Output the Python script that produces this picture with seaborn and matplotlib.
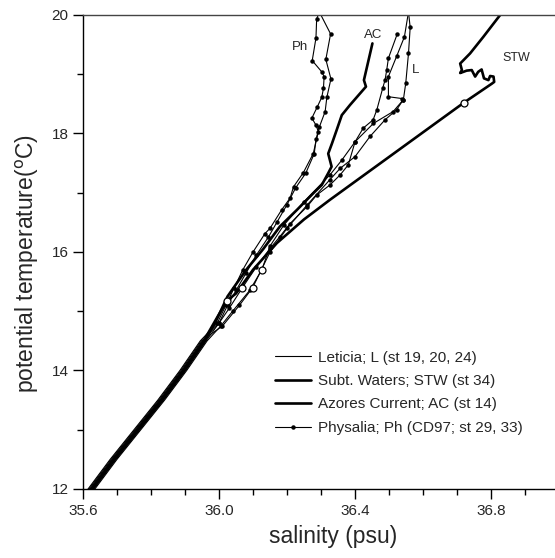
import matplotlib
matplotlib.use("Agg")
import matplotlib.pyplot as plt
import seaborn as sns
import pandas as pd
from matplotlib.lines import Line2D
from matplotlib.ticker import MultipleLocator

# T-S profiles (salinity psu, potential temperature degC)
sal_ph1 = [36.295, 36.287, 36.285, 36.274, 36.302, 36.309, 36.307, 36.302, 36.289, 36.273,
           36.285, 36.292, 36.277, 36.248, 36.219, 36.209, 36.184, 36.150, 36.135, 36.100,
           36.070, 36.045, 36.020, 35.995]
temp_ph1 = [20.05, 19.93, 19.61, 19.23, 19.04, 18.96, 18.76, 18.61, 18.45, 18.26,
            18.14, 18.03, 17.66, 17.34, 17.10, 16.91, 16.71, 16.40, 16.31, 16.00,
            15.70, 15.40, 15.10, 14.80]

sal_ph2 = [36.295, 36.328, 36.314, 36.329, 36.317, 36.312, 36.295, 36.285, 36.280, 36.255,
           36.225, 36.200, 36.170, 36.145, 36.110, 36.080, 36.050, 36.025, 36.000]
temp_ph2 = [20.05, 19.68, 19.25, 18.92, 18.61, 18.37, 18.11, 17.90, 17.66, 17.33,
            17.08, 16.80, 16.50, 16.25, 15.95, 15.65, 15.35, 15.10, 14.80]

sal_ac = [36.451, 36.426, 36.432, 36.385, 36.361, 36.346, 36.332, 36.321, 36.331, 36.321,
          36.302, 36.277, 36.229, 36.179, 36.130, 36.080, 36.042, 36.025, 35.990]
temp_ac = [19.52, 18.90, 18.79, 18.48, 18.31, 18.06, 17.83, 17.66, 17.44, 17.33,
           17.13, 16.99, 16.71, 16.43, 16.05, 15.70, 15.39, 15.25, 14.82]

sal_l1 = [36.524, 36.498, 36.493, 36.488, 36.481, 36.464, 36.453, 36.424, 36.400, 36.380,
          36.356, 36.326, 36.287, 36.258, 36.209, 36.179, 36.150, 36.110, 36.069, 36.030,
          36.000]
temp_l1 = [19.68, 19.27, 19.07, 18.90, 18.76, 18.40, 18.23, 18.09, 17.86, 17.47,
           17.30, 17.13, 16.96, 16.76, 16.48, 16.26, 16.06, 15.75, 15.40, 15.05,
           14.80]

sal_l2 = [36.557, 36.545, 36.522, 36.498, 36.498, 36.537, 36.542, 36.512, 36.454, 36.400,
          36.361, 36.326, 36.250, 36.190, 36.150, 36.126, 36.090, 36.040, 36.005]
temp_l2 = [20.05, 19.63, 19.30, 18.96, 18.62, 18.59, 18.57, 18.37, 18.17, 17.86,
           17.55, 17.30, 16.85, 16.45, 16.10, 15.70, 15.35, 15.00, 14.75]

sal_l3 = [36.557, 36.562, 36.557, 36.549, 36.542, 36.522, 36.488, 36.444, 36.400, 36.356,
          36.326, 36.260, 36.200, 36.150, 36.099, 36.060, 36.010]
temp_l3 = [20.05, 19.79, 19.35, 18.85, 18.57, 18.40, 18.23, 17.95, 17.61, 17.41,
           17.22, 16.80, 16.40, 16.00, 15.40, 15.10, 14.75]

sal_stw = [36.840, 36.777, 36.738, 36.709, 36.714, 36.709, 36.728, 36.743, 36.753, 36.762,
           36.772, 36.779, 36.792, 36.797, 36.807, 36.809, 36.802, 36.720, 36.326, 36.250,
           36.170, 36.100, 36.050, 36.024, 35.995]
temp_stw = [20.10, 19.63, 19.35, 19.18, 19.07, 19.02, 19.06, 19.07, 18.96, 19.04,
            19.08, 18.93, 18.90, 18.97, 18.96, 18.87, 18.84, 18.52, 16.88, 16.55,
            16.15, 15.70, 15.30, 15.18, 14.90]

# shared deep part of the T-S curve
trunk_sal = [35.955, 35.895, 35.830, 35.760, 35.690, 35.625, 35.610]
trunk_temp = [14.50, 14.00, 13.50, 13.00, 12.50, 12.00, 11.90]
trunk_shift = [-0.010, 0.007, -0.004, 0.010, -0.007, 0.003, 0.0]

# open circles marking the same level in the profiles
circle_sal = [36.024, 36.069, 36.099, 36.126, 36.720]
circle_temp = [15.18, 15.40, 15.40, 15.70, 18.52]

profiles = [
    ("Ph1", sal_ph1, temp_ph1, 0.8, True),
    ("Ph2", sal_ph2, temp_ph2, 0.8, True),
    ("L1", sal_l1, temp_l1, 0.8, True),
    ("L2", sal_l2, temp_l2, 0.8, True),
    ("L3", sal_l3, temp_l3, 0.8, True),
    ("AC", sal_ac, temp_ac, 1.9, False),
    ("STW", sal_stw, temp_stw, 1.9, False),
]

sns.set_style("ticks")
plt.rcParams["font.family"] = ["Liberation Sans", "DejaVu Sans"]

fig = plt.figure(figsize=(5.55, 5.58), dpi=100)
ax = fig.add_axes([0.1495, 0.1237, 0.858, 0.8495])

for i, (name, s, t, lw, dots) in enumerate(profiles):
    sh = trunk_shift[i]
    df = pd.DataFrame({
        "sal": s + [v + sh for v in trunk_sal],
        "temp": t + trunk_temp,
    })
    sns.lineplot(data=df, x="sal", y="temp", sort=False, estimator=None,
                 color="black", lw=lw, ax=ax, legend=False)
    if dots:
        ax.plot(s, t, ls="none", marker="o", ms=2.2, color="black")

ax.plot(circle_sal, circle_temp, ls="none", marker="o", ms=5, mfc="white",
        mec="black", mew=0.9, zorder=5)

ax.set_xlim(35.6, 37.0)
ax.set_ylim(12, 20)
ax.xaxis.set_major_locator(MultipleLocator(0.4))
ax.xaxis.set_minor_locator(MultipleLocator(0.1))
ax.yaxis.set_major_locator(MultipleLocator(2))
ax.yaxis.set_minor_locator(MultipleLocator(1))
ax.tick_params(which="major", direction="out", length=7, width=1, labelsize=11, color="black")
ax.tick_params(which="minor", direction="out", length=4, width=1, color="black")
for side in ["left", "bottom", "top", "right"]:
    ax.spines[side].set_visible(True)
    ax.spines[side].set_linewidth(1)
    ax.spines[side].set_color("black")
ax.spines["top"].set_color("#444444")

ax.set_xlabel("salinity (psu)", fontsize=16.5)
ax.set_ylabel("potential temperature($^{\\rm o}$C)", fontsize=16.5)
ax.xaxis.set_label_coords(0.525, -0.075)
ax.yaxis.set_label_coords(-0.088, 0.475)

ax.text(36.238, 19.46, "Ph", fontsize=9.5, ha="center", va="center")
ax.text(36.453, 19.66, "AC", fontsize=9.5, ha="center", va="center")
ax.text(36.579, 19.07, "L", fontsize=9.5, ha="center", va="center")
ax.text(36.874, 19.27, "STW", fontsize=9, ha="center", va="center")

handles = [
    Line2D([], [], color="black", lw=0.8),
    Line2D([], [], color="black", lw=1.9),
    Line2D([], [], color="black", lw=1.9),
    Line2D([], [], color="black", lw=0.8, marker="o", ms=2.2),
]
labels = [
    "Leticia; L (st 19, 20, 24)",
    "Subt. Waters; STW (st 34)",
    "Azores Current; AC (st 14)",
    "Physalia; Ph (CD97; st 29, 33)",
]
ax.legend(handles, labels, loc="upper left", bbox_to_anchor=(0.39, 0.305),
          frameon=False, fontsize=11, handlelength=2.4, handletextpad=0.4,
          labelspacing=0.62, borderaxespad=0)

fig.savefig("out.png", dpi=100)
